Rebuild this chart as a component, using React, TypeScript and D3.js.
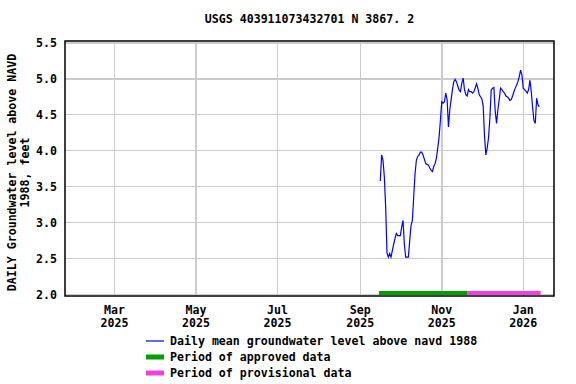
import React from "react";
import * as d3 from "d3";

const W = 576;
const H = 384;

// daily mean values, feet above NAVD 1988, one per consecutive day
const SEP_START = "2025-09-16";
const sepLevels = [3.58, 3.94, 3.87, 3.64, 3.22, 2.58, 2.52, 2.57, 2.52, 2.61, 2.70, 2.78, 2.85, 2.82, 2.82];
const octLevels = [
  2.82, 2.94, 3.03, 2.70, 2.52, 2.52, 2.52, 2.75, 2.96, 3.03, 3.36, 3.68, 3.87, 3.92, 3.94, 3.98,
  3.98, 3.94, 3.88, 3.82, 3.81, 3.80, 3.76, 3.73, 3.71, 3.78, 3.82, 3.90, 4.04, 4.19, 4.43,
];
const novLevels = [
  4.68, 4.66, 4.68, 4.80, 4.71, 4.33, 4.57, 4.71, 4.85, 4.96, 4.99, 4.96, 4.90, 4.84, 4.82,
  4.94, 5.01, 4.85, 4.78, 4.76, 4.85, 4.82, 4.82, 4.80, 4.82, 4.87, 4.93, 4.87, 4.78, 4.75,
];
const decLevels = [
  4.72, 4.62, 4.20, 3.94, 4.04, 4.18, 4.45, 4.84, 4.87, 4.88, 4.55, 4.38, 4.57, 4.71, 4.87, 4.85,
  4.82, 4.80, 4.76, 4.75, 4.73, 4.70, 4.71, 4.76, 4.82, 4.87, 4.91, 4.96, 5.03, 5.12, 5.05,
];
const janLevels = [4.87, 4.85, 4.83, 4.80, 4.85, 4.98, 4.82, 4.60, 4.42, 4.38, 4.73, 4.64, 4.61];

const approvedPeriod = ["2025-09-15", "2025-11-20"];
const provisionalPeriod = ["2025-11-20", "2026-01-14"];

const xDomain = ["2025-01-23", "2026-01-24"];
const yDomain = [1.98, 5.525];
const yTicks = [2.0, 2.5, 3.0, 3.5, 4.0, 4.5, 5.0, 5.5];
const xTickDates = ["2025-03-01", "2025-05-01", "2025-07-01", "2025-09-01", "2025-11-01", "2026-01-01"];
const xTickLabels = [
  ["Mar", "2025"],
  ["May", "2025"],
  ["Jul", "2025"],
  ["Sep", "2025"],
  ["Nov", "2025"],
  ["Jan", "2026"],
];
const legendItems = [
  { label: "Daily mean groundwater level above navd 1988", color: "#0000ff", width: 1.2 },
  { label: "Period of approved data", color: "#00a000", width: 5 },
  { label: "Period of provisional data", color: "#f040e0", width: 5 },
];

const parse = d3.utcParse("%Y-%m-%d");
const FONT = "'DejaVu Sans Mono', monospace";

const App = () => {
  const left = 65;
  const right = 554;
  const top = 41;
  const bottom = 296;

  const x = d3.scaleUtc().domain(xDomain.map((d) => parse(d) as Date)).range([left, right]);
  const y = d3.scaleLinear().domain(yDomain).range([bottom, top]);

  const start = parse(SEP_START) as Date;
  const allLevels = [...sepLevels, ...octLevels, ...novLevels, ...decLevels, ...janLevels];
  const series = allLevels.map((v, i) => ({ date: d3.utcDay.offset(start, i), value: v }));

  const line = d3
    .line<{ date: Date; value: number }>()
    .x((d) => x(d.date))
    .y((d) => y(d.value));

  const barY = y(2.0) - 1.5;

  return (
    <svg
      width={W}
      height={H}
      style={{ position: "absolute", left: 0, top: 0, background: "#fff" }}
      fontFamily={FONT}
      fontWeight="bold"
      fontSize={11.6}
    >
      <text x={(left + right) / 2} y={23} textAnchor="middle">
        USGS 403911073432701 N 3867. 2
      </text>

      {/* grid */}
      <g stroke="#cccccc" strokeWidth={1.5} shapeRendering="crispEdges">
        {yTicks.map((t) => (
          <line key={t} x1={left} x2={right} y1={y(t)} y2={y(t)} />
        ))}
        {xTickDates.map((t) => (
          <line key={t} x1={x(parse(t) as Date)} x2={x(parse(t) as Date)} y1={top} y2={bottom} />
        ))}
      </g>

      {/* data-approval bars */}
      <line
        x1={x(parse(approvedPeriod[0]) as Date)}
        x2={x(parse(approvedPeriod[1]) as Date)}
        y1={barY}
        y2={barY}
        stroke="#00a000"
        strokeWidth={4}
      />
      <line
        x1={x(parse(provisionalPeriod[0]) as Date)}
        x2={x(parse(provisionalPeriod[1]) as Date)}
        y1={barY}
        y2={barY}
        stroke="#f040e0"
        strokeWidth={4}
      />

      <path d={line(series) || ""} fill="none" stroke="#0000ff" strokeWidth={1.2} />

      <rect
        x={left}
        y={top}
        width={right - left}
        height={bottom - top}
        fill="none"
        stroke="#000"
        strokeWidth={1.5}
      />

      {/* y ticks */}
      {yTicks.map((t) => (
        <text key={t} x={57} y={y(t)} dy="0.35em" textAnchor="end">
          {d3.format(".1f")(t)}
        </text>
      ))}

      {/* x ticks */}
      {xTickDates.map((t, i) => (
        <text key={t} x={x(parse(t) as Date)} textAnchor="middle">
          <tspan x={x(parse(t) as Date)} y={314}>
            {xTickLabels[i][0]}
          </tspan>
          <tspan x={x(parse(t) as Date)} y={327}>
            {xTickLabels[i][1]}
          </tspan>
        </text>
      ))}

      {/* y axis title */}
      <g transform={`translate(0, ${(top + bottom) / 2 + 4}) rotate(-90)`} textAnchor="middle">
        <text x={0} y={16}>
          DAILY Groundwater level above NAVD
        </text>
        <text x={0} y={29}>
          1988, feet
        </text>
      </g>

      {/* legend */}
      {legendItems.map((it, i) => (
        <g key={it.label} transform={`translate(0, ${341 + i * 16})`}>
          <line x1={146} x2={164} y1={0} y2={0} stroke={it.color} strokeWidth={it.width} />
          <text x={170} y={0} dy="0.35em">
            {it.label}
          </text>
        </g>
      ))}
    </svg>
  );
};

export default App;
